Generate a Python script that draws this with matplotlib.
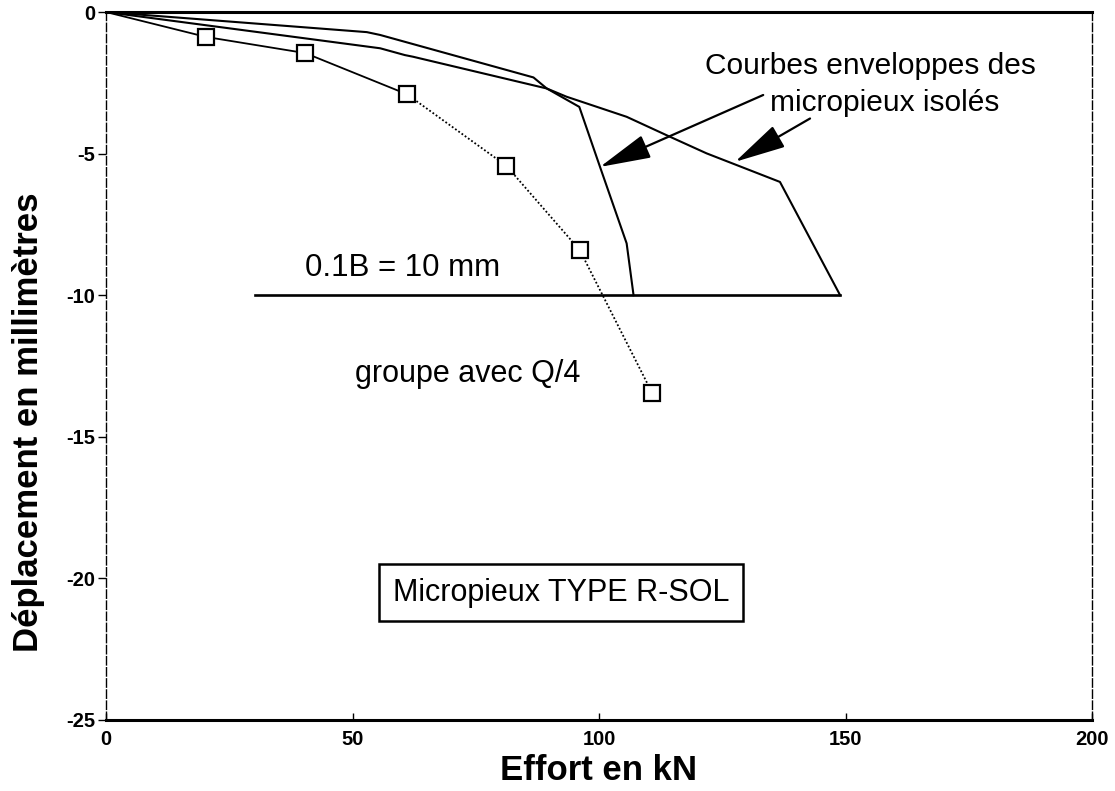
import matplotlib
matplotlib.use("Agg")
import matplotlib.pyplot as plt

plt.rcParams['font.family'] = ['Liberation Sans', 'DejaVu Sans']

# Data (Effort en kN, Déplacement en mm)
env1_x = [0, 52.9, 55.6, 86.7, 89.4, 96.0, 100.2, 105.6, 107.0]
env1_y = [0, -0.71, -0.81, -2.31, -2.70, -3.35, -5.47, -8.17, -10.0]

env2_x = [0, 55.6, 60.6, 62.3, 89.4, 93.4, 105.6, 113.7, 121.8, 136.7, 148.9]
env2_y = [0, -1.28, -1.52, -1.58, -2.70, -2.99, -3.70, -4.35, -4.99, -6.0, -10.0]

grp_x = [0, 20.3, 40.4, 61.0, 81.2, 96.1, 110.8]
grp_y = [0, -0.88, -1.45, -2.90, -5.43, -8.41, -13.46]

limit_x = [30.2, 148.9]
limit_y = [-10, -10]

xticks = [0, 50, 100, 150, 200]
yticks = [0, -5, -10, -15, -20, -25]
xtick_labels = ['0', '50', '100', '150', '200']
ytick_labels = ['0', '-5', '-10', '-15', '-20', '-25']

fig = plt.figure(figsize=(11.15, 7.91), dpi=100)
ax = fig.add_axes([0.0951, 0.0898, 0.8843, 0.895])

ax.plot(env1_x, env1_y, color='black', lw=1.5)
ax.plot(env2_x, env2_y, color='black', lw=1.5)
ax.plot(grp_x[:4], grp_y[:4], color='black', lw=1.3)
ax.plot(grp_x[3:], grp_y[3:], color='black', lw=1.3, linestyle=(0, (1, 1.2)))
ax.plot(grp_x[1:], grp_y[1:], linestyle='none', marker='s', ms=11,
        mfc='white', mec='black', mew=1.6)
ax.plot(limit_x, limit_y, color='black', lw=1.9)

ax.set_xlim(0, 200)
ax.set_ylim(-25, 0)
ax.set_xticks(xticks)
ax.set_xticklabels(xtick_labels)
ax.set_yticks(yticks)
ax.set_yticklabels(ytick_labels)
ax.tick_params(axis='x', direction='in', length=5, width=1, labelsize=14.5, pad=7)
ax.tick_params(axis='y', direction='out', length=6, width=1, labelsize=14.5, pad=2)
for lab in ax.get_xticklabels() + ax.get_yticklabels():
    lab.set_fontweight('bold')

ax.spines['top'].set_linewidth(2.2)
ax.spines['bottom'].set_linewidth(2.2)
ax.spines['left'].set_linewidth(1.0)
ax.spines['left'].set_linestyle((0, (6, 2)))
ax.spines['right'].set_linewidth(1.0)
ax.spines['right'].set_linestyle((0, (6, 2)))

ax.set_xlabel('Effort en kN', fontsize=25, fontweight='bold', va='center')
ax.xaxis.set_label_coords(0.5, -0.071)
ax.set_ylabel('Déplacement en millimètres', fontsize=25, fontweight='bold', va='center')
ax.yaxis.set_label_coords(-0.079, 0.42)

ax.text(60.2, -9.05, '0.1B = 10 mm', fontsize=22.5, ha='center', va='center')
ax.text(73.4, -12.8, 'groupe avec Q/4', fontsize=22, ha='center', va='center')
ax.text(155, -1.9, 'Courbes enveloppes des', fontsize=21.5, ha='center', va='center')
ax.text(158, -3.2, 'micropieux isolés', fontsize=21.5, ha='center', va='center')
ax.text(92.3, -20.5, 'Micropieux TYPE R-SOL', fontsize=22, ha='center', va='center',
        bbox=dict(boxstyle='square,pad=0.45', fc='white', ec='black', lw=1.8))

arrow_style = dict(arrowstyle='-|>,head_length=1.6,head_width=0.38',
                   mutation_scale=20, lw=1.6, color='black', fc='black',
                   shrinkA=0, shrinkB=0)
ax.annotate('', xy=(100.2, -5.47), xytext=(133.3, -2.93), arrowprops=arrow_style)
ax.annotate('', xy=(127.6, -5.29), xytext=(142.8, -3.76), arrowprops=arrow_style)

fig.savefig('out.png', dpi=100)
